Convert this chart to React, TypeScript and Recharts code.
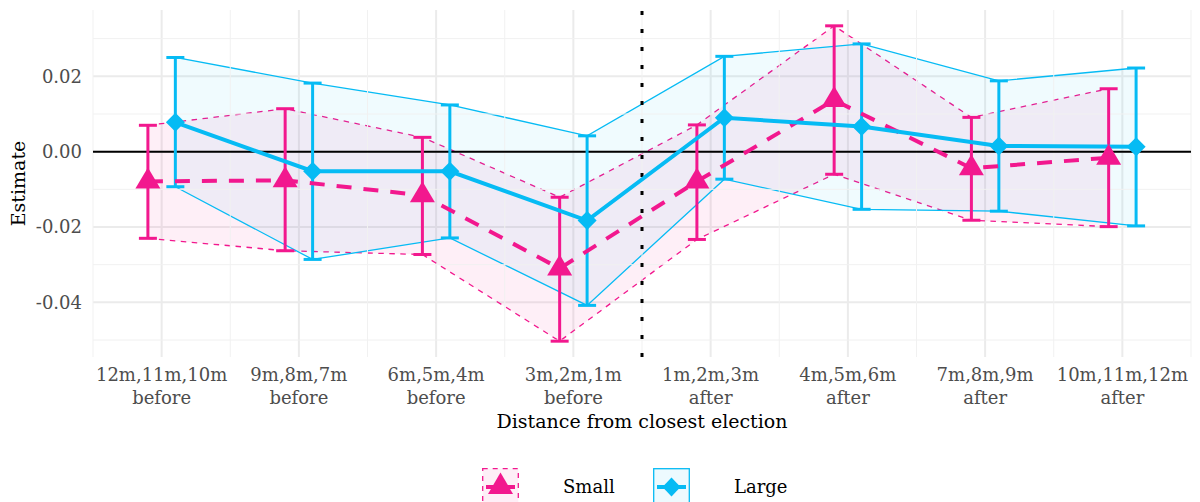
import React from 'react';
import {
    ComposedChart,
    Area,
    Scatter,
    ErrorBar,
    XAxis,
    YAxis,
    CartesianGrid,
    ReferenceLine,
    Legend
} from 'recharts';

// categories (two-line tick labels)
const periods = ['12m,11m,10m', '9m,8m,7m', '6m,5m,4m', '3m,2m,1m', '1m,2m,3m', '4m,5m,6m', '7m,8m,9m', '10m,11m,12m'];
const sides = ['before', 'before', 'before', 'before', 'after', 'after', 'after', 'after'];

// Small
const smallEst = [-0.0079, -0.0076, -0.0116, -0.0310, -0.0079, 0.0137, -0.0044, -0.0016];
const smallLow = [-0.0230, -0.0263, -0.0273, -0.0503, -0.0233, -0.0060, -0.0182, -0.0199];
const smallHigh = [0.0070, 0.0114, 0.0038, -0.0121, 0.0071, 0.0334, 0.0091, 0.0167];

// Large
const largeEst = [0.0078, -0.0052, -0.0052, -0.0183, 0.0090, 0.0067, 0.0015, 0.0013];
const largeLow = [-0.0093, -0.0286, -0.0229, -0.0408, -0.0073, -0.0153, -0.0158, -0.0197];
const largeHigh = [0.0250, 0.0182, 0.0124, 0.0042, 0.0253, 0.0286, 0.0188, 0.0222];

const yTicks = [-0.04, -0.02, 0, 0.02];
const yMinor = [-0.05, -0.03, -0.01, 0.01, 0.03];
const xTicks = [1, 2, 3, 4, 5, 6, 7, 8];
const xMinor = [0.5, 1.5, 2.5, 3.5, 4.5, 5.5, 6.5, 7.5, 8.5];
const electionBreak = 4.5;

const PINK = '#F2188E';
const BLUE = '#06BBF4';
const FONT = '"DejaVu Serif", serif';
const DODGE = 0.1;

const makeRows = (est: number[], low: number[], high: number[], shift: number) =>
    est.map((v, i) => ({
        x: i + 1 + shift,
        est: v,
        band: [low[i], high[i]],
        err: [v - low[i], high[i] - v]
    }));

const smallRows = makeRows(smallEst, smallLow, smallHigh, -DODGE);
const largeRows = makeRows(largeEst, largeLow, largeHigh, DODGE);

const Triangle = (props: any) => {
    const { cx, cy } = props;
    const h = 21, w = 12.5;
    return <path d={`M${cx},${cy - (2 * h) / 3} L${cx + w},${cy + h / 3} L${cx - w},${cy + h / 3} Z`} fill={PINK} />;
};

const Diamond = (props: any) => {
    const { cx, cy } = props;
    const r = 9.5;
    return <path d={`M${cx},${cy - r} L${cx + r},${cy} L${cx},${cy + r} L${cx - r},${cy} Z`} fill={BLUE} />;
};

const NoShape = () => <g />;

const CategoryTick = (props: any) => {
    const { x, y, payload } = props;
    const i = Math.round(payload.value) - 1;
    return (
        <text x={x} y={y} textAnchor="middle" fill="#4d4d4d" fontSize={18} fontFamily={FONT}>
            <tspan x={x} dy={24}>{periods[i]}</tspan>
            <tspan x={x} dy={22.5}>{sides[i]}</tspan>
        </text>
    );
};

const LegendContent = () => (
    <div style={{ position: 'relative', width: 1200, height: 83, fontFamily: FONT, fontSize: 18, color: '#000' }}>
        <svg width={37} height={37} style={{ position: 'absolute', left: 482, top: 11 }}>
            <rect x={0.7} y={0.7} width={35.6} height={35.6} fill={PINK} fillOpacity={0.07} stroke={PINK} strokeWidth={1.3} strokeDasharray="5 5" />
            <line x1={4} x2={33} y1={19} y2={19} stroke={PINK} strokeWidth={4} />
            <path d="M18.5,4.5 L31,26 L6,26 Z" fill={PINK} />
        </svg>
        <span style={{ position: 'absolute', left: 563, top: 11, lineHeight: '37px' }}>Small</span>
        <svg width={37} height={37} style={{ position: 'absolute', left: 653, top: 11 }}>
            <rect x={0.7} y={0.7} width={35.6} height={35.6} fill={BLUE} fillOpacity={0.07} stroke={BLUE} strokeWidth={1.3} />
            <line x1={4} x2={33} y1={19} y2={19} stroke={BLUE} strokeWidth={4} />
            <path d="M18.5,9.5 L27.5,19 L18.5,28.5 L9.5,19 Z" fill={BLUE} />
        </svg>
        <span style={{ position: 'absolute', left: 734, top: 11, lineHeight: '37px' }}>Large</span>
    </div>
);

const App: React.FC = () => {
    return (
        <div style={{ position: 'absolute', top: 0, left: 0, width: 1200, height: 502, overflow: 'hidden', background: '#fff', fontFamily: FONT }}>
            <ComposedChart width={1200} height={540} margin={{ top: 10, right: 9, left: 0, bottom: 0 }}>
                <CartesianGrid stroke="#ebebeb" strokeWidth={2} syncWithTicks />
                {yMinor.map((v) => (
                    <ReferenceLine key={'ym' + v} y={v} stroke="#f1f1f1" strokeWidth={1} />
                ))}
                {xMinor.map((v) => (
                    <ReferenceLine key={'xm' + v} x={v} stroke="#f1f1f1" strokeWidth={1} />
                ))}

                <XAxis
                    type="number"
                    dataKey="x"
                    domain={[0.5, 8.5]}
                    ticks={xTicks}
                    interval={0}
                    allowDataOverflow
                    height={100}
                    tickLine={false}
                    axisLine={false}
                    tickSize={0}
                    tickMargin={0}
                    tick={CategoryTick}
                    label={{ value: 'Distance from closest election', position: 'center', dy: 14, fill: '#000', fontSize: 19, fontFamily: FONT }}
                />
                <YAxis
                    type="number"
                    dataKey="est"
                    domain={[-0.0545, 0.0376]}
                    ticks={yTicks}
                    allowDataOverflow
                    width={93}
                    tickLine={false}
                    axisLine={false}
                    tickSize={0}
                    tickMargin={11}
                    tickFormatter={(v: number) => v.toFixed(2)}
                    tick={{ fill: '#4d4d4d', fontSize: 18, fontFamily: FONT }}
                    label={{ value: 'Estimate', angle: -90, position: 'center', dx: -28, fill: '#000', fontSize: 19, fontFamily: FONT }}
                />

                <Area data={smallRows} dataKey="band" type="linear" fill={PINK} fillOpacity={0.07} stroke={PINK} strokeWidth={1.3} strokeDasharray="5.5 5.5" isAnimationActive={false} />
                <Area data={largeRows} dataKey="band" type="linear" fill={BLUE} fillOpacity={0.06} stroke={BLUE} strokeWidth={1.3} isAnimationActive={false} />

                <ReferenceLine y={0} stroke="#000" strokeWidth={2} />
                <ReferenceLine x={electionBreak} stroke="#000" strokeWidth={3} strokeDasharray="4 14" />

                <Scatter data={smallRows} shape={NoShape} line={{ stroke: PINK, strokeWidth: 4, strokeDasharray: '15 12' }} isAnimationActive={false} />
                <Scatter data={largeRows} shape={NoShape} line={{ stroke: BLUE, strokeWidth: 4 }} isAnimationActive={false} />

                <Scatter data={smallRows} shape={Triangle} fill={PINK} isAnimationActive={false}>
                    <ErrorBar dataKey="err" direction="y" width={9} stroke={PINK} strokeWidth={3} isAnimationActive={false} />
                </Scatter>
                <Scatter data={largeRows} shape={Diamond} fill={BLUE} isAnimationActive={false}>
                    <ErrorBar dataKey="err" direction="y" width={9} stroke={BLUE} strokeWidth={3} isAnimationActive={false} />
                </Scatter>

                <Legend verticalAlign="bottom" content={LegendContent} wrapperStyle={{ left: 0, width: 1200, height: 83 }} />
            </ComposedChart>
        </div>
    );
};

export default App;
